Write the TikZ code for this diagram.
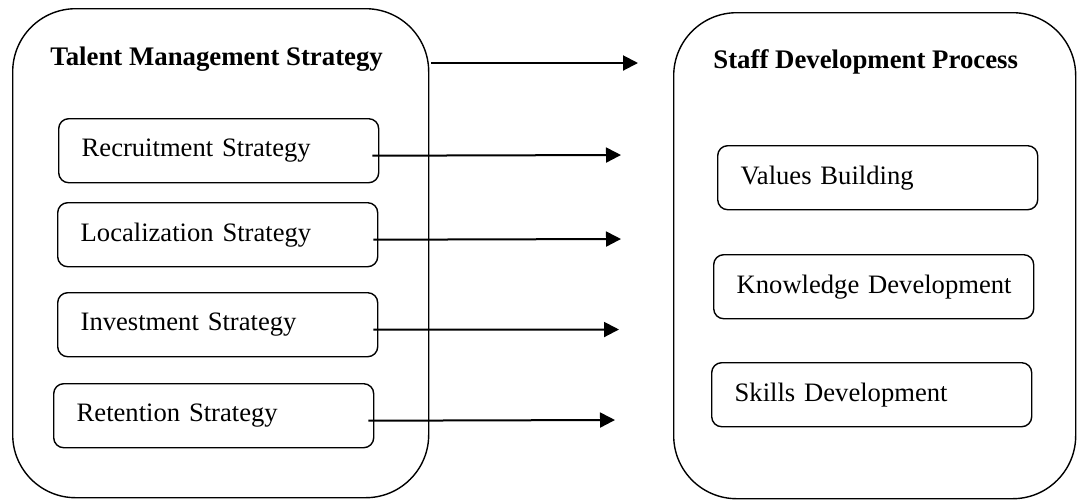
\documentclass[tikz,border=0pt]{standalone}
\usepackage{fontspec}
\setmainfont{Liberation Serif}
\usetikzlibrary{arrows.meta}

\begin{document}
\begin{tikzpicture}[x=0.5pt,y=-0.5pt,
  bigbox/.style={draw,line width=0.7pt,rounded corners=31.5pt,anchor=north west,inner sep=0pt},
  itembox/.style={draw,line width=0.7pt,rounded corners=5pt,anchor=north west,
    minimum width=160pt,minimum height=32pt,inner xsep=11.5pt,text width=137pt,
    execute at begin node={\rightskip=0pt minus 10pt},
    font=\fontsize{13.3}{15}\selectfont},
  heading/.style={anchor=base west,inner sep=0pt,font=\fontsize{13.4}{15}\selectfont\bfseries},
  conn/.style={line width=1pt,-{Triangle[length=7.5pt,width=7.5pt]}}]
\useasboundingbox (0,0) rectangle (1077,500);
%%%%%%%%%
% left column
\node (tms) [bigbox,minimum width=208pt,minimum height=244.5pt] at (12,8) {};
\node (tmsT) [heading] at (50,65) {Talent Management Strategy};
\node (rec) [itembox] at (58,118) {Recruitment Strategy};
\node (loc) [itembox] at (57,202) {Localization Strategy};
\node (inv) [itembox] at (57,292) {Investment Strategy};
\node (ret) [itembox] at (53,383) {Retention Strategy};
%%%%%%%%%
% right column
\node (sdp) [bigbox,minimum width=201pt,minimum height=243pt] at (673,12) {};
\node (sdpT) [heading] at (713,68) {Staff Development Process};
\node (val) [itembox] at (717,145) {Values Building};
\node (knw) [itembox] at (713,254) {Knowledge Development};
\node (skl) [itembox] at (711,362) {Skills Development};
%%%%%%%%%
% arrows
\coordinate (e0) at (638,63);
\coordinate (e1) at (621,155);
\coordinate (e2) at (621,239);
\coordinate (e3) at (619,329.5);
\coordinate (e4) at (615,420);
\draw [conn] ([xshift=1pt,yshift=1pt]tms.east |- tmsT.base) -- (e0);
\draw [conn] ([xshift=-3.5pt,yshift=-2.5pt]rec.east) -- (e1);
\draw [conn] ([xshift=-2.5pt,yshift=-2.5pt]loc.east) -- (e2);
\draw [conn] ([xshift=-2.5pt,yshift=-2.5pt]inv.east) -- (e3);
\draw [conn] ([xshift=-3pt,yshift=-2.5pt]ret.east) -- (e4);
\end{tikzpicture}
\end{document}
